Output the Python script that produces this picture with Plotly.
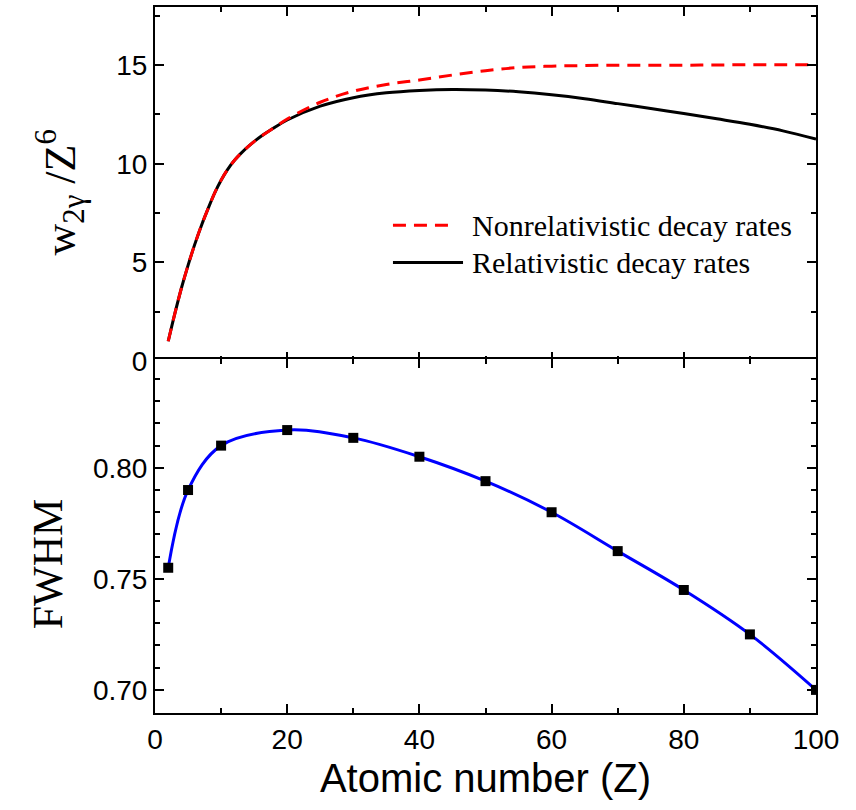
import plotly.graph_objects as go

# Scaled two-photon decay rate w_2γ / Z^6 versus atomic number
z_rate = [2, 3, 4, 5, 6, 7, 8, 9, 10, 11, 12, 13, 14, 16, 18, 20, 25, 30, 35,
          40, 45, 50, 55, 60, 65, 70, 75, 80, 85, 90, 95, 100]
rate_rel = [1.0, 2.4, 3.7, 4.85, 5.9, 6.85, 7.7, 8.5, 9.17, 9.72, 10.17,
            10.53, 10.85, 11.38, 11.82, 12.22, 12.92, 13.35, 13.6, 13.72,
            13.77, 13.74, 13.65, 13.5, 13.3, 13.05, 12.8, 12.55, 12.28, 12.0,
            11.67, 11.25]
rate_nonrel = [1.0, 2.4, 3.7, 4.85, 5.9, 6.85, 7.7, 8.5, 9.17, 9.72, 10.17,
               10.53, 10.85, 11.38, 11.82, 12.27, 13.12, 13.68, 14.02, 14.25,
               14.5, 14.72, 14.88, 14.95, 14.98, 15.0, 15.0, 15.0, 15.01, 15.02,
               15.02, 15.02]

# FWHM of the two-photon spectrum
z_fwhm = [2, 5, 10, 20, 30, 40, 50, 60, 70, 80, 90, 100]
fwhm = [0.755, 0.790, 0.810, 0.817, 0.8135, 0.805, 0.794, 0.780, 0.7625,
        0.745, 0.725, 0.700]

legend_labels = ["Nonrelativistic decay rates", "Relativistic decay rates"]

serif = "Liberation Serif, Times New Roman, serif"
sans = "Liberation Sans, Arial, sans-serif"

fig = go.Figure()

fig.add_trace(go.Scatter(x=z_rate, y=rate_rel, mode="lines", line_shape="spline",
                         line=dict(color="black", width=3), name=legend_labels[1],
                         xaxis="x", yaxis="y", showlegend=False))
fig.add_trace(go.Scatter(x=z_rate, y=rate_nonrel, mode="lines", line_shape="spline",
                         line=dict(color="#ff0000", width=3, dash="13px,8px"),
                         name=legend_labels[0], xaxis="x", yaxis="y",
                         showlegend=False))

fig.add_trace(go.Scatter(x=z_fwhm, y=fwhm, mode="lines", line_shape="spline",
                         line=dict(color="#0000ff", width=3), showlegend=False,
                         xaxis="x2", yaxis="y2"))
fig.add_trace(go.Scatter(x=z_fwhm, y=fwhm, mode="markers",
                         marker=dict(symbol="square", size=10, color="black"),
                         showlegend=False, xaxis="x2", yaxis="y2"))

# Hand-drawn legend inside the upper panel
legend_rows = [(6.88, "#ff0000", "13px,8px", 45.5), (5.0, "black", "solid", 46.6)]
for (ly, col, dash, xend), label in zip(legend_rows, legend_labels):
    fig.add_shape(type="line", xref="x", yref="y", x0=36.0, x1=xend, y0=ly, y1=ly,
                  line=dict(color=col, width=3, dash=dash))
    fig.add_annotation(xref="x", yref="y", x=47.6, y=ly, text=label,
                       showarrow=False, xanchor="left", yanchor="middle",
                       font=dict(family=serif, size=30, color="black"))

# Vertical axis titles
fig.add_annotation(xref="paper", yref="paper", x=-0.144, y=0.737,
                   text="w<sub>2γ</sub> /Z<sup>6</sup>", textangle=-90,
                   showarrow=False, xanchor="center", yanchor="middle",
                   font=dict(family=serif, size=44, color="black"))
fig.add_annotation(xref="paper", yref="paper", x=-0.162, y=0.212,
                   text="FWHM", textangle=-90,
                   showarrow=False, xanchor="center", yanchor="middle",
                   font=dict(family=serif, size=42, color="black"))

tick_font = dict(family=sans, size=28, color="black")
axis_common = dict(showline=True, linecolor="black", linewidth=2, mirror="ticks",
                   ticks="inside", tickcolor="black", tickwidth=2, ticklen=9,
                   showgrid=False, zeroline=False, tickfont=tick_font)
x_minor = dict(ticks="inside", dtick=10, ticklen=5, tickwidth=2,
               tickcolor="black", showgrid=False)

half_gap = 0.0014  # panels overlap by one line width so the shared border is single

fig.update_layout(
    width=856, height=810, margin=dict(l=155, r=40, t=5, b=97),
    paper_bgcolor="white", plot_bgcolor="white",
    xaxis=dict(range=[0, 100], dtick=20, tick0=0, minor=x_minor, anchor="y",
               showticklabels=False, matches="x2", **axis_common),
    xaxis2=dict(range=[0, 100], dtick=20, tick0=0, minor=x_minor, anchor="y2",
                showticklabels=True,
                title=dict(text="Atomic number (Z)", standoff=10,
                           font=dict(family=sans, size=40, color="black")),
                **axis_common),
    yaxis=dict(domain=[0.5 - half_gap, 1], range=[0, 17.95], dtick=5, tick0=0,
               anchor="x",
               minor=dict(ticks="inside", dtick=2.5, ticklen=5, tickwidth=2,
                          tickcolor="black", showgrid=False),
               **axis_common),
    yaxis2=dict(domain=[0, 0.5 + half_gap], range=[0.6896, 0.849], dtick=0.05,
                tick0=0.70, tickformat=".2f", anchor="x2",
                minor=dict(ticks="inside", dtick=0.01, ticklen=5, tickwidth=2,
                           tickcolor="black", showgrid=False),
                **axis_common),
)

fig.write_html("out.html")
